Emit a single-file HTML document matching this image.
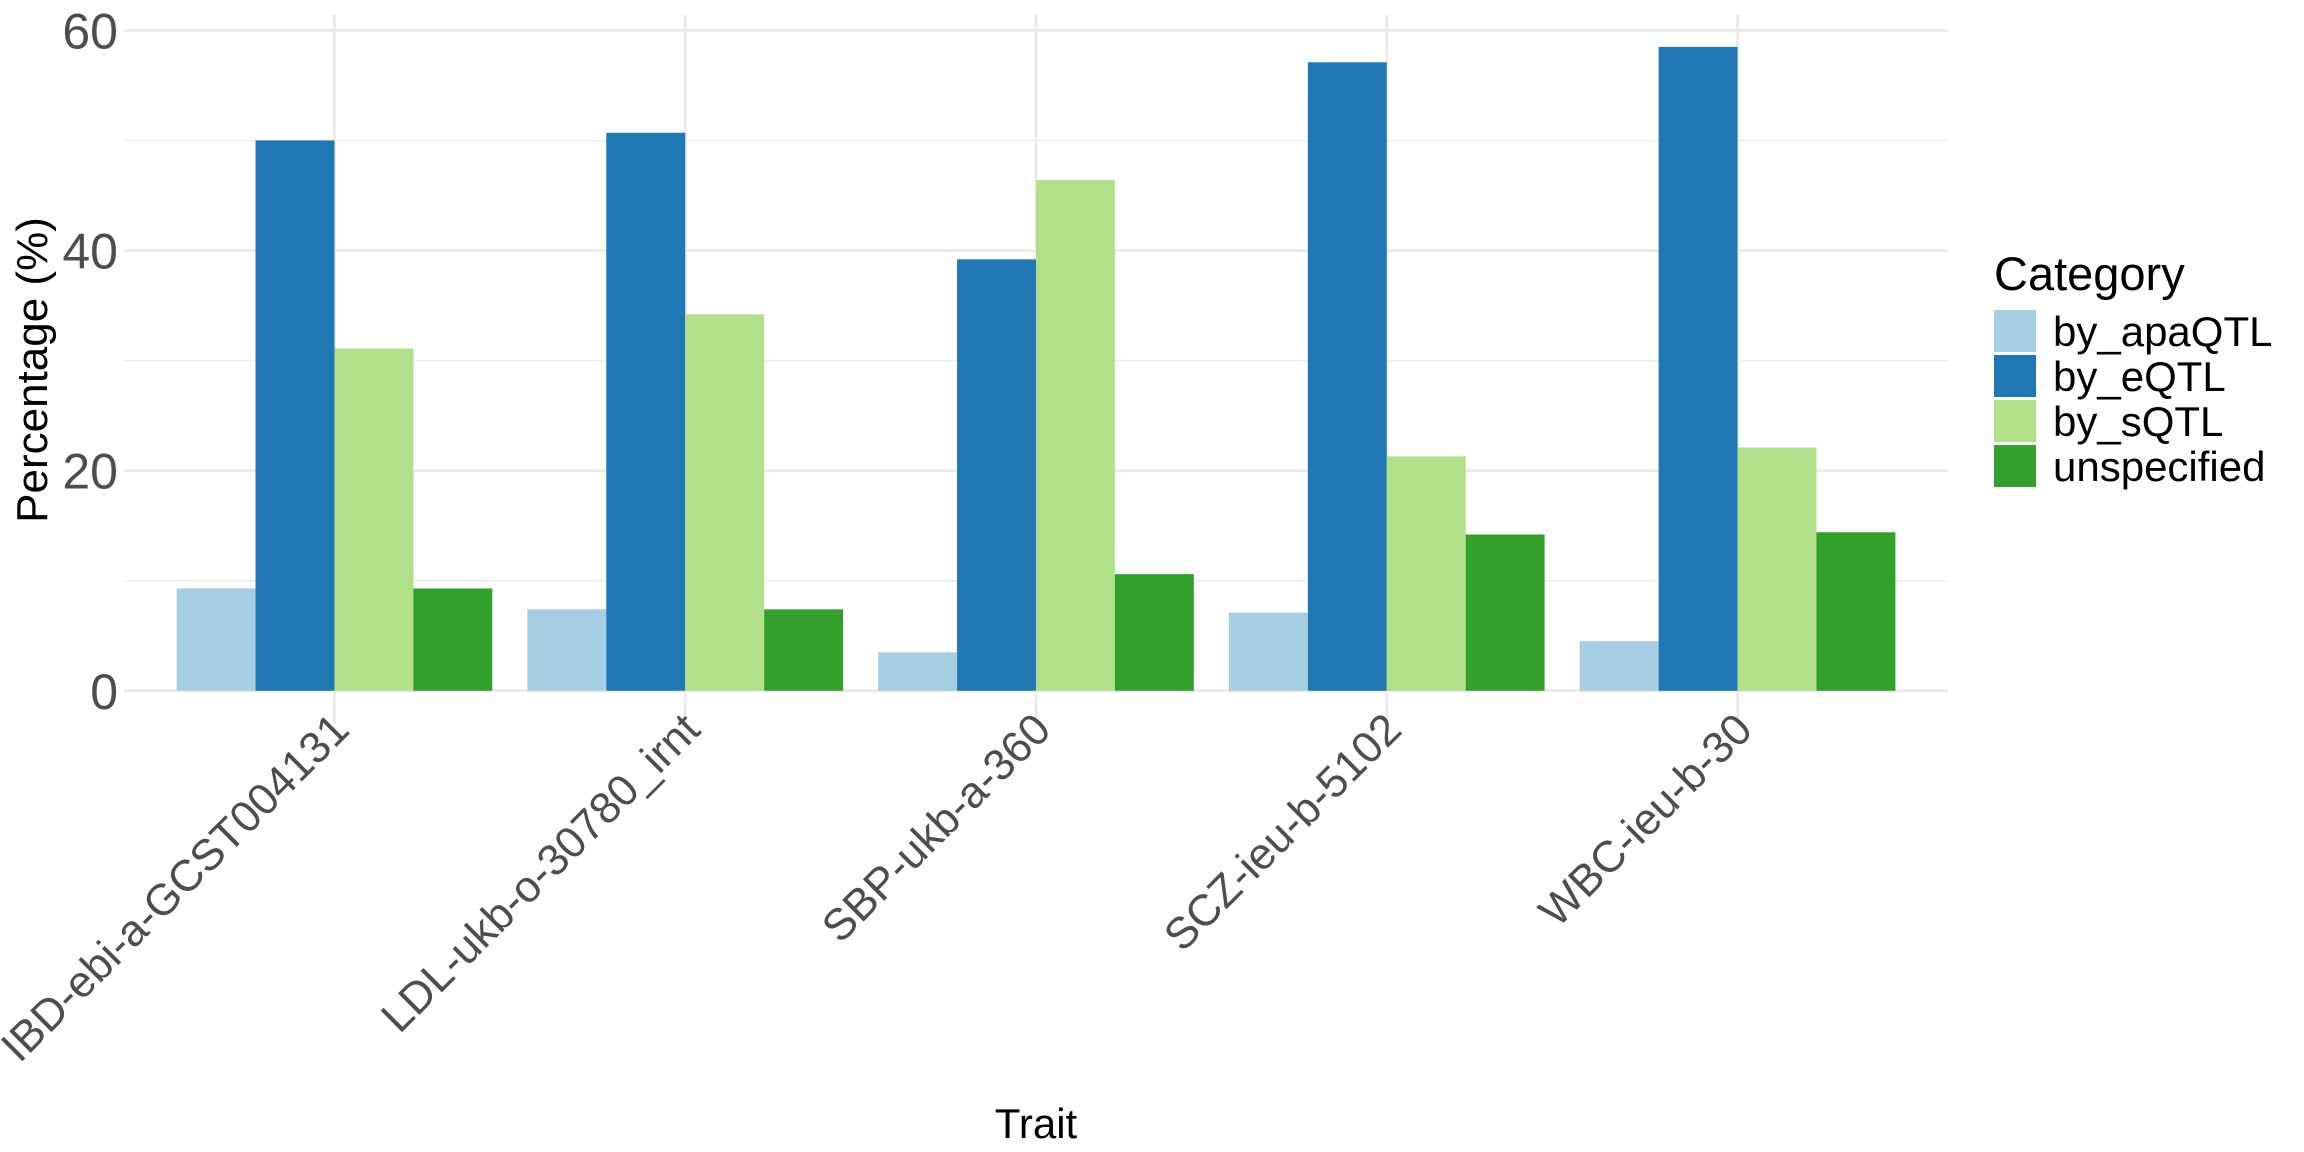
<!DOCTYPE html>
<html><head><meta charset="utf-8"><style>
html,body{margin:0;padding:0;background:#fff;}
svg{display:block;font-family:"Liberation Sans",Arial,sans-serif;}
</style></head><body>
<svg id="chart" width="2304" height="1152" viewBox="0 0 2304 1152" xmlns="http://www.w3.org/2000/svg">
<g id="grid"></g>
<g id="bars"></g>
<g id="yticks"></g>
<g id="xticks"></g>
<text x="47" y="370" transform="rotate(-90 47 370)" text-anchor="middle" font-size="44" fill="#000">Percentage (%)</text>
<text x="1036" y="1138" text-anchor="middle" font-size="42" fill="#000">Trait</text>
<g id="legend">
<text x="1994" y="290" font-size="47" fill="#000">Category</text>
</g>
</svg>
<script>
const categories = ["IBD-ebi-a-GCST004131","LDL-ukb-o-30780_irnt","SBP-ukb-a-360","SCZ-ieu-b-5102","WBC-ieu-b-30"];
const seriesNames = ["by_apaQTL","by_eQTL","by_sQTL","unspecified"];
const apaQTL = [9.3, 7.4, 3.5, 7.1, 4.5];
const eQTL = [50.0, 50.7, 39.2, 57.1, 58.5];
const sQTL = [31.1, 34.2, 46.4, 21.3, 22.1];
const unspecified = [9.3, 7.4, 10.6, 14.2, 14.4];
const yTicks = [0, 20, 40, 60];
const yMinor = [10, 30, 50];

const colors = ["#a6cee3","#1f78b4","#b2df8a","#33a02c"];
const series = [apaQTL, eQTL, sQTL, unspecified];
const NS = "http://www.w3.org/2000/svg";
const panelL = 124, panelR = 1948, panelT = 14.7, panelB = 724.6;
const yMax = Math.max(...series.flat()) * 1.05;
const yMinV = -yMax * 0.05;
function y(v){ return panelB - (v - yMinV) / (yMax - yMinV) * (panelB - panelT); }
const step = (panelR - panelL) / (categories.length - 1 + 1.2);
function x(i){ return panelL + step * (0.6 + i); }
function mk(tag, attrs, parent){ const e = document.createElementNS(NS, tag); for (const k in attrs) e.setAttribute(k, attrs[k]); parent.appendChild(e); return e; }

const grid = document.getElementById('grid');
yMinor.forEach(v => {
  const l = mk('line', {x1:panelL, x2:panelR, y1:y(v), y2:y(v), stroke:'#ebebeb', 'stroke-width':1.5}, grid);
  
  
});
yTicks.forEach(v => {
  const l = mk('line', {x1:panelL, x2:panelR, y1:y(v), y2:y(v), stroke:'#ebebeb', 'stroke-width':3}, grid);
  
  
});
categories.forEach((c, i) => {
  const l = mk('line', {x1:x(i), x2:x(i), y1:panelT, y2:panelB, stroke:'#ebebeb', 'stroke-width':3}, grid);
  
  
});

const bars = document.getElementById('bars');
const bw = step * 0.9 / series.length;
categories.forEach((c, i) => {
  series.forEach((s, j) => {
    const x0 = x(i) - step * 0.45 + j * bw;
    const r = mk('rect', {x:x0, y:y(s[i]), width:bw, height:y(0) - y(s[i]), fill:colors[j]}, bars);
    
    
  });
});

const yt = document.getElementById('yticks');
yTicks.forEach(v => {
  const t = mk('text', {x:118, y:y(v) + 18, 'text-anchor':'end', 'font-size':50, fill:'#4d4d4d'}, yt);
  t.textContent = v;
  
  
});

const xt = document.getElementById('xticks');
categories.forEach((c, i) => {
  const ax = x(i) + 17, ay = 732;
  const t = mk('text', {x:ax, y:ay, 'text-anchor':'end', 'font-size':44, fill:'#4d4d4d', transform:'rotate(-45 ' + ax + ' ' + ay + ')'}, xt);
  t.textContent = c;
  
  
});

const lg = document.getElementById('legend');
seriesNames.forEach((n, j) => {
  const r = mk('rect', {x:1994, y:310 + j * 45, width:42, height:42, fill:colors[j]}, lg);
  
  
  const t = mk('text', {x:2053, y:310 + j * 45 + 36, 'font-size':42, fill:'#000'}, lg);
  t.textContent = n;
  
  
});
</script>
</body></html>
